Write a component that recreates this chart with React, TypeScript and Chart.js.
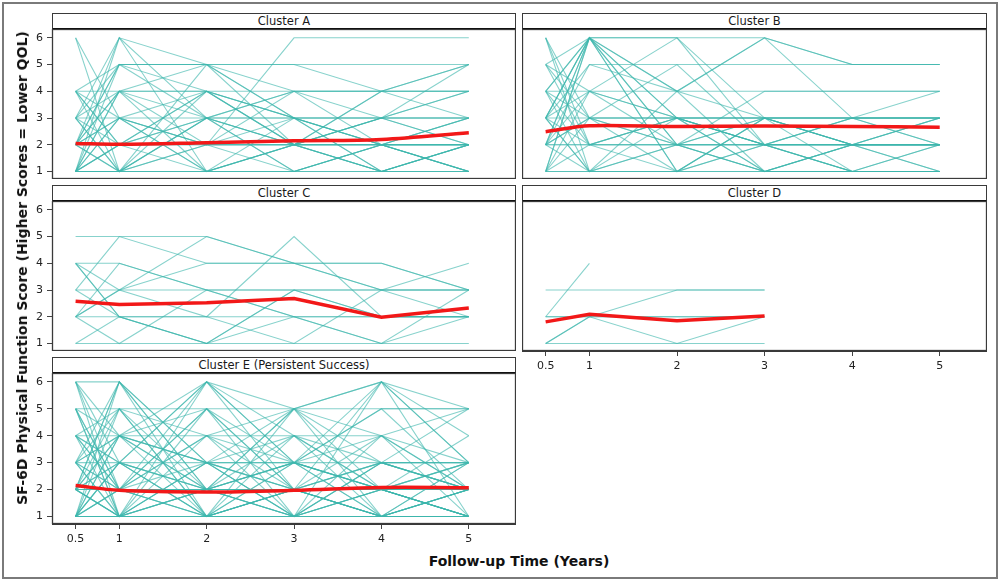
import { useEffect, useRef } from 'react';
import { Chart, registerables } from 'chart.js';

Chart.register(...registerables);
Chart.defaults.font.family = '"DejaVu Sans", sans-serif';

// ---------- data ----------
const timePoints = [0.5, 1, 2, 3, 4, 5];
const xTickValues = [0.5, 1, 2, 3, 4, 5];
const xTickLabels = ['0.5', '1', '2', '3', '4', '5'];
const yTickValues = [1, 2, 3, 4, 5, 6];
const yTickLabels = ['1', '2', '3', '4', '5', '6'];

const clusterA: (number | null)[][] = [
  [6, 1, 2, 1, 2, 1], [6, 3, 2, 2, 1, 2], [4, 5, 5, 4, 4, 5], [4, 2, 3, 3, 3, 4],
  [4, 1, 1, 2, 2, 2], [3, 6, 5, 3, 2, 1], [3, 5, 3, 4, 3, 3], [3, 4, 4, 3, 2, 2],
  [3, 3, 3, 3, 3, 3], [3, 1, 3, 2, 2, 3], [2, 5, 4, 2, 4, 4], [2, 3, 2, 2, 1, 2],
  [2, 2, 2, 2, 2, 2], [2, 4, 3, 1, 2, 1], [2, 1, 1, 1, 1, 1], [1, 6, 3, 2, 1, 2],
  [1, 5, 5, 5, 4, 5], [1, 4, 1, 2, 3, 3], [1, 3, 2, 4, 4, 4], [1, 1, 1, 1, 1, 1],
  [1, 2, 4, 3, 2, 3], [1, 1, 2, 3, 2, 2], [2, 5, 5, 5, 5, 5], [4, 4, 4, 4, 4, 4],
  [1, 3, 1, 2, 2, 1], [3, 2, 2, 6, 6, 6], [2, 1, 3, 2, 3, 2], [1, 2, 1, 3, 1, 2],
  [4, 3, 4, 2, 2, 3], [1, 1, 3, 4, 2, 2], [2, 4, 2, 2, 3, 4], [3, 1, 5, 2, 3, 2],
  [1, 2, 3, 1, 2, 1], [2, 3, 1, 2, 4, 3], [1, 1, 4, 2, 1, 2], [2, 6, 1, 1, 2, 2],
  [4, 2, 4, 3, 1, 1], [1, 4, 5, 3, 3, 5],
];
const meanA = [2.05, 2.02, 2.08, 2.15, 2.2, 2.45];

const clusterB: (number | null)[][] = [
  [6, 3, 2, 2, 2, 2], [6, 1, 3, 2, 1, 1], [5, 6, 4, 3, 2, 2], [5, 2, 3, 3, 3, 3],
  [4, 6, 6, 6, 5, 5], [4, 4, 4, 4, 4, 4], [4, 1, 2, 1, 2, 2], [3, 6, 2, 3, 3, 3],
  [3, 5, 5, 5, 5, 5], [3, 3, 3, 3, 3, 3], [3, 2, 2, 2, 2, 2], [3, 1, 1, 2, 1, 1],
  [2, 6, 3, 2, 2, 3], [2, 4, 6, 3, 2, 2], [2, 2, 2, 2, 2, 2], [2, 1, 1, 1, 1, 1],
  [1, 6, 1, 3, 2, 2], [1, 3, 2, 1, 1, 2], [1, 1, 1, 1, 1, 1], [1, 4, 3, 2, 3, 3],
  [2, 5, 4, 6, 3, 3], [3, 6, 6, 2, 1, 1], [4, 3, 1, 3, 3, 4], [2, 3, 3, 1, 2, 2],
  [5, 4, 2, 4, 4, 4], [1, 2, 3, 3, 2, 1], [3, 6, 4, 6, 5, 5], [2, 2, 1, 3, 3, 2],
  [4, 2, 3, 2, 2, 3], [1, 1, 2, 2, 1, 1], [3, 4, 3, 3, 2, 2], [6, 2, 2, 3, 1, 2],
  [2, 6, 1, 2, 3, 3], [5, 3, 3, 2, 2, 2], [1, 6, 2, 1, 2, 3], [3, 1, 4, 1, 2, 1],
  [2, 3, 5, 2, 3, 2], [4, 6, 3, 1, 1, 1],
];
const meanB = [2.49, 2.71, 2.68, 2.7, 2.68, 2.66];

const clusterC: (number | null)[][] = [
  [5, 5, 5, 4, 4, 3], [4, 4, 3, 2, 1, 3], [4, 2, 1, 3, 2, 2], [4, 3, 2, 5, 2, 2],
  [3, 5, 4, 4, 3, 3], [3, 3, 3, 3, 3, 3], [2, 3, 4, 4, 4, 3], [2, 2, 2, 2, 2, 2],
  [2, 1, 3, 3, 2, 2], [1, 1, 1, 1, 1, 1], [2, 4, 3, 2, 1, 2], [4, 2, 2, 1, 3, 4],
  [3, 2, 1, 3, 3, 2], [1, 2, 1, 2, 2, 2], [2, 3, 5, 4, 3, 3],
];
const meanC = [2.58, 2.46, 2.52, 2.68, 1.98, 2.33];

const clusterD: (number | null)[][] = [
  [2, 4, null, null, null, null], [3, 3, 3, 3, null, null], [2, 2, 3, 3, null, null],
  [1, 2, 1, 2, null, null], [1, 1, 1, 1, null, null], [2, 2, 2, 2, null, null],
  [1, 2, 2, 2, null, null],
];
const meanD = [1.81, 2.09, 1.85, 2.03, null, null];

const clusterE: (number | null)[][] = [
  [6, 1, 2, 1, 1, 1], [6, 3, 6, 2, 1, 2], [6, 6, 3, 5, 6, 3], [5, 1, 2, 3, 2, 1],
  [5, 4, 3, 2, 1, 2], [5, 2, 6, 3, 2, 1], [4, 3, 2, 1, 1, 2], [4, 1, 1, 2, 3, 3],
  [4, 5, 4, 4, 4, 5], [4, 2, 5, 1, 2, 2], [3, 6, 2, 2, 6, 4], [3, 3, 3, 3, 3, 3],
  [3, 1, 4, 5, 1, 2], [3, 4, 1, 2, 2, 1], [2, 2, 2, 2, 2, 2], [2, 6, 1, 3, 2, 1],
  [2, 1, 3, 1, 6, 5], [2, 5, 2, 4, 3, 3], [2, 3, 1, 2, 1, 2], [1, 1, 1, 1, 1, 1],
  [1, 4, 2, 5, 2, 1], [1, 2, 5, 2, 3, 2], [1, 6, 3, 1, 4, 2], [1, 3, 2, 2, 2, 3],
  [1, 1, 6, 4, 1, 1], [2, 4, 3, 1, 2, 3], [3, 2, 2, 3, 5, 2], [4, 4, 3, 3, 2, 2],
  [1, 2, 1, 1, 3, 5], [2, 1, 2, 5, 6, 1], [5, 5, 5, 5, 5, 5], [6, 2, 4, 1, 3, 2],
  [1, 5, 1, 2, 1, 1], [3, 1, 1, 3, 4, 3], [2, 2, 4, 2, 1, 2], [1, 3, 6, 3, 2, 1],
  [4, 2, 2, 1, 1, 1], [2, 1, 1, 2, 2, 4], [3, 4, 5, 2, 1, 3], [1, 1, 3, 2, 3, 2],
  [2, 3, 2, 3, 1, 1], [5, 1, 3, 4, 2, 2], [1, 2, 2, 1, 2, 1], [3, 5, 1, 1, 3, 2],
  [2, 6, 2, 2, 1, 3], [1, 4, 4, 3, 5, 5], [4, 3, 1, 5, 4, 2], [2, 2, 1, 4, 2, 3],
  [6, 4, 2, 2, 2, 1], [1, 1, 2, 3, 6, 3], [3, 2, 3, 2, 2, 2], [2, 1, 5, 3, 1, 1],
  [1, 3, 1, 2, 4, 1], [5, 2, 1, 1, 2, 2], [2, 4, 6, 5, 3, 2],
];
const meanE = [2.15, 1.97, 1.91, 1.97, 2.08, 2.07];

const panelTitles = ['Cluster A', 'Cluster B', 'Cluster C', 'Cluster D', 'Cluster E (Persistent Success)'];
const yAxisTitle = 'SF-6D Physical Function Score (Higher Scores = Lower QOL)';
const xAxisTitle = 'Follow-up Time (Years)';

// ---------- layout / style ----------
const X_MIN = 0.23;
const X_MAX = 5.54;
const Y_MIN = 0.72;
const Y_MAX = 6.33;
const Y_AXIS_W = 30;
const X_AXIS_H = 28;
const TEAL = 'rgba(62, 182, 172, 0.62)';
const RED = '#f21818';

type PanelDef = {
  title: string;
  subjects: (number | null)[][];
  mean: (number | null)[];
  l: number; t: number; r: number; b: number;
  showY: boolean; showX: boolean; tension: number;
};

const panels: PanelDef[] = [
  { title: panelTitles[0], subjects: clusterA, mean: meanA, l: 52, t: 29, r: 516, b: 179, showY: true, showX: false, tension: 0.35 },
  { title: panelTitles[1], subjects: clusterB, mean: meanB, l: 522, t: 29, r: 987, b: 179, showY: false, showX: false, tension: 0.3 },
  { title: panelTitles[2], subjects: clusterC, mean: meanC, l: 52, t: 201, r: 516, b: 351, showY: true, showX: false, tension: 0 },
  { title: panelTitles[3], subjects: clusterD, mean: meanD, l: 522, t: 201, r: 987, b: 351, showY: false, showX: true, tension: 0 },
  { title: panelTitles[4], subjects: clusterE, mean: meanE, l: 52, t: 373, r: 516, b: 524, showY: true, showX: true, tension: 0.35 },
];

function toPoints(vals: (number | null)[]) {
  const pts: { x: number; y: number }[] = [];
  vals.forEach((v, i) => {
    if (v !== null && v !== undefined) pts.push({ x: timePoints[i], y: v });
  });
  return pts;
}

const boxPlugin = {
  id: 'panelBox',
  afterDraw(chart: any) {
    const { ctx, chartArea } = chart;
    const { left, top, right, bottom } = chartArea;
    ctx.save();
    ctx.strokeStyle = '#3a3a3a';
    ctx.lineWidth = 1.3;
    ctx.strokeRect(left + 0.5, top + 0.5, right - left - 1, bottom - top - 1);
    ctx.restore();
  },
};

function Panel({ p }: { p: PanelDef }) {
  const ref = useRef<HTMLCanvasElement | null>(null);
  const yw = p.showY ? Y_AXIS_W : 0;
  const xh = p.showX ? X_AXIS_H : 0;
  const w = p.r - p.l + yw;
  const h = p.b - p.t + xh;

  useEffect(() => {
    if (!ref.current) return;
    const datasets: any[] = [
      {
        data: toPoints(p.mean),
        borderColor: RED,
        borderWidth: 3.5,
        tension: p.tension,
        pointRadius: 0,
      },
      ...p.subjects.map((s) => ({
        data: toPoints(s),
        borderColor: TEAL,
        borderWidth: 1.1,
        pointRadius: 0,
        tension: 0,
      })),
    ];
    const chart = new Chart(ref.current, {
      type: 'line',
      data: { datasets },
      options: {
        animation: false,
        responsive: false,
        events: [],
        layout: { padding: 0 },
        plugins: { legend: { display: false }, tooltip: { enabled: false }, title: { display: false } },
        scales: {
          x: {
            type: 'linear',
            min: X_MIN,
            max: X_MAX,
            display: p.showX,
            afterBuildTicks: (s: any) => {
              s.ticks = xTickValues.map((v) => ({ value: v }));
            },
            afterFit: (s: any) => {
              s.height = p.showX ? X_AXIS_H : 0;
              s.paddingLeft = 0;
              s.paddingRight = 0;
              s.paddingTop = 0;
              s.paddingBottom = 0;
            },
            ticks: {
              autoSkip: false,
              maxRotation: 0,
              callback: (_v: any, i: number) => xTickLabels[i],
              font: { size: 11 },
              color: '#222',
              padding: 4,
            },
            grid: { drawOnChartArea: false, drawTicks: true, tickLength: 5, color: '#444' },
            border: { display: true, color: '#3a3a3a' },
          },
          y: {
            type: 'linear',
            min: Y_MIN,
            max: Y_MAX,
            display: p.showY,
            afterBuildTicks: (s: any) => {
              s.ticks = yTickValues.map((v) => ({ value: v }));
            },
            afterFit: (s: any) => {
              s.width = p.showY ? Y_AXIS_W : 0;
              s.paddingTop = 0;
              s.paddingBottom = 0;
              s.paddingLeft = 0;
              s.paddingRight = 0;
            },
            ticks: {
              autoSkip: false,
              callback: (_v: any, i: number) => yTickLabels[i],
              font: { size: 11 },
              color: '#222',
              padding: 4,
            },
            grid: { drawOnChartArea: false, drawTicks: true, tickLength: 5, color: '#444' },
            border: { display: true, color: '#3a3a3a' },
          },
        },
      } as any,
      plugins: [boxPlugin],
    });
    return () => chart.destroy();
  }, []);

  return (
    <>
      <div
        style={{
          position: 'absolute',
          left: p.l,
          top: p.t - 16,
          width: p.r - p.l,
          height: 17,
          boxSizing: 'border-box',
          border: '1px solid #3a3a3a',
          borderBottom: '2px solid #111',
          textAlign: 'center',
          fontFamily: '"DejaVu Sans", sans-serif',
          fontSize: 11.5,
          lineHeight: '14px',
          color: '#1a1a1a',
          background: '#fff',
        }}
      >
        {p.title}
      </div>
      <canvas
        ref={ref}
        width={w}
        height={h}
        style={{ position: 'absolute', left: p.l - yw, top: p.t, width: w, height: h }}
      />
    </>
  );
}

export default function App() {
  return (
    <div style={{ position: 'absolute', left: 0, top: 0, width: 1000, height: 582, background: '#fff', overflow: 'hidden' }}>
      <div
        style={{
          position: 'absolute',
          left: 2,
          top: 2,
          width: 996,
          height: 577,
          boxSizing: 'border-box',
          border: '2px solid #7a7a7a',
        }}
      />
      {panels.map((p) => (
        <Panel key={p.title} p={p} />
      ))}
      <div
        style={{
          position: 'absolute',
          left: 22,
          top: 268,
          transform: 'translate(-50%, -50%) rotate(-90deg)',
          whiteSpace: 'nowrap',
          fontFamily: '"DejaVu Sans", sans-serif',
          fontWeight: 'bold',
          fontSize: 14,
          color: '#111',
        }}
      >
        {yAxisTitle}
      </div>
      <div
        style={{
          position: 'absolute',
          left: 519,
          top: 561,
          transform: 'translate(-50%, -50%)',
          whiteSpace: 'nowrap',
          fontFamily: '"DejaVu Sans", sans-serif',
          fontWeight: 'bold',
          fontSize: 14,
          color: '#111',
        }}
      >
        {xAxisTitle}
      </div>
    </div>
  );
}
